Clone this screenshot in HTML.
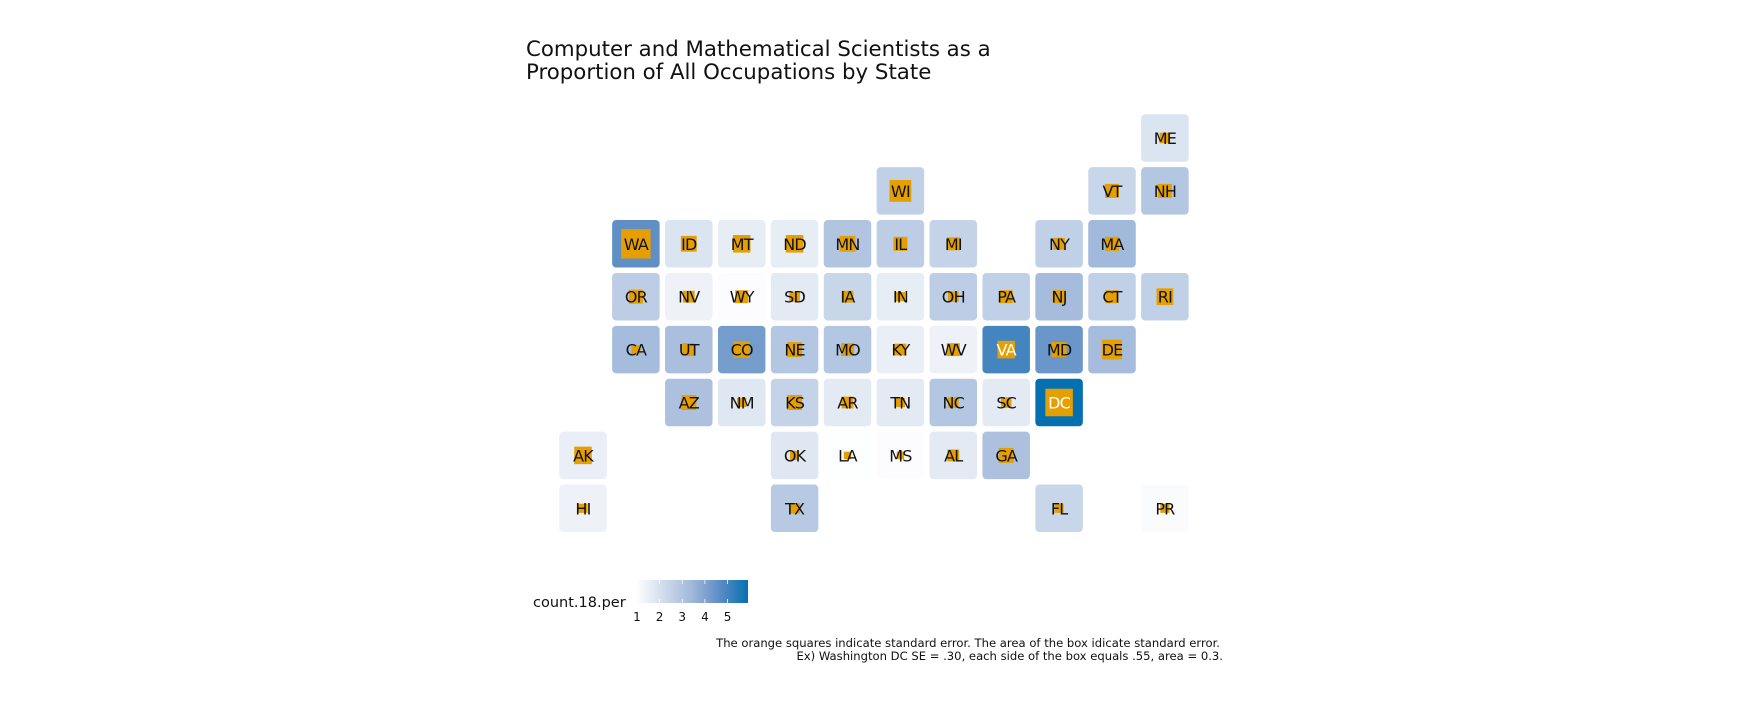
<!DOCTYPE html>
<html><head><meta charset="utf-8"><style>
html,body{margin:0;padding:0;background:#fff;}
svg{display:block;font-family:"DejaVu Sans","Liberation Sans",sans-serif;}
</style></head><body>
<svg id="chart" width="1745" height="702" viewBox="0 0 1745 702">
<defs>
<linearGradient id="cbar" x1="0" x2="1" y1="0" y2="0">
<stop offset="0" stop-color="#ffffff"/><stop offset="0.5" stop-color="#a0b8da"/><stop offset="0.75" stop-color="#5b8dc4"/><stop offset="1" stop-color="#0570b0"/>
</linearGradient>
</defs>
<text x="526" y="56" font-size="21.3" fill="#111">Computer and Mathematical Scientists as a</text>
<text x="526" y="79" font-size="21.3" fill="#111">Proportion of All Occupations by State</text>
<g id="tiles"></g>
<text x="533" y="607" font-size="14.5" fill="#111">count.18.per</text>
<rect x="636" y="580" width="112" height="23" fill="url(#cbar)"/>
<g id="legend-ticks"></g>
<text x="1220" y="647" font-size="11.6" text-anchor="end" fill="#111">The orange squares indicate standard error. The area of the box idicate standard error.</text>
<text x="1223" y="660" font-size="11.6" text-anchor="end" fill="#111">Ex) Washington DC SE = .30, each side of the box equals .55, area = 0.3.</text>
</svg>
<script>
const states = ["ME","WI","VT","NH","WA","ID","MT","ND","MN","IL","MI","NY","MA","OR","NV","WY","SD","IA","IN","OH","PA","NJ","CT","RI","CA","UT","CO","NE","MO","KY","WV","VA","MD","DE","AZ","NM","KS","AR","TN","NC","SC","DC","AK","OK","LA","MS","AL","GA","HI","TX","FL","PR"];
const cols = [11,6,10,11,1,2,3,4,5,6,7,9,10,1,2,3,4,5,6,7,8,9,10,11,1,2,3,4,5,6,7,8,9,10,2,3,4,5,6,7,8,9,0,4,5,6,7,8,0,4,9,11];
const rows = [0,1,1,1,2,2,2,2,2,2,2,2,2,3,3,3,3,3,3,3,3,3,3,3,4,4,4,4,4,4,4,4,4,4,5,5,5,5,5,5,5,5,6,6,6,6,6,6,7,7,7,7];
const values = [1.9,2.6,2.4,2.9,4.6,1.9,1.6,1.6,3.0,2.7,2.5,2.6,3.4,2.7,1.4,1.05,1.7,2.4,1.6,2.7,2.6,3.3,2.6,2.6,3.3,3.2,4.2,2.9,2.9,1.5,1.4,5.0,4.4,3.3,3.1,1.8,2.5,1.7,1.7,2.9,1.7,5.9,1.5,1.8,1.0,1.05,1.7,3.1,1.4,2.8,2.4,1.1];
const se = [.04,.17,.07,.07,.31,.09,.11,.11,.09,.07,.06,.05,.07,.07,.05,.06,.04,.05,.03,.04,.06,.06,.06,.10,.03,.06,.10,.08,.06,.05,.06,.11,.08,.14,.08,.03,.08,.05,.03,.04,.04,.27,.11,.03,.02,.02,.05,.08,.03,.04,.03,.03];
const legendTicks = [1,2,3,4,5];
const vmin = 0.96, vmax = 5.9;
const stops = [[0,[255,255,255]],[0.5,[160,184,218]],[0.75,[91,141,196]],[1,[5,112,176]]];
function color(v){
  let t=Math.max(0,Math.min(1,(v-vmin)/(vmax-vmin)));
  for(let i=1;i<stops.length;i++){ if(t<=stops[i][0]){const a=stops[i-1],b=stops[i];const f=(t-a[0])/(b[0]-a[0]);
    return 'rgb('+a[1].map((c,k)=>Math.round(c+(b[1][k]-c)*f)).join(',')+')';}}
  return 'rgb(5,112,176)';
}
const unit = 52.9;
const xs = c => 583 + unit*c;
const ys = r => 138 + unit*r;
const lx = v => 636 + (v-vmin)/(vmax-vmin)*112;
const NS='http://www.w3.org/2000/svg';
const g=document.getElementById('tiles');
states.forEach((s,i)=>{
  const cx=xs(cols[i]), cy=ys(rows[i]), w=47.5;
  const grp=document.createElementNS(NS,'g');
  
  
  const r=document.createElementNS(NS,'rect');
  r.setAttribute('x',cx-w/2);r.setAttribute('y',cy-w/2);r.setAttribute('width',w);r.setAttribute('height',w);
  r.setAttribute('rx',4);r.setAttribute('fill',color(values[i]));
  
  
  grp.appendChild(r);
  const side=Math.sqrt(se[i])*unit;
  const q=document.createElementNS(NS,'rect');
  q.setAttribute('x',cx-side/2);q.setAttribute('y',cy-side/2);q.setAttribute('width',side);q.setAttribute('height',side);
  q.setAttribute('fill','#e69f00');
  
  
  grp.appendChild(q);
  const t=document.createElementNS(NS,'text');
  t.setAttribute('x',cx);t.setAttribute('y',cy+6);t.setAttribute('text-anchor','middle');
  t.setAttribute('font-size','16');t.setAttribute('letter-spacing','-0.8');t.setAttribute('fill',values[i]>4.8?'#fff':'#111');
  t.textContent=s;
  
  
  grp.appendChild(t);
  g.appendChild(grp);
});
const lt=document.getElementById('legend-ticks');
legendTicks.forEach(v=>{
  const x=lx(v);
  const ln=document.createElementNS(NS,'line');
  ln.setAttribute('x1',x);ln.setAttribute('x2',x);ln.setAttribute('y1',580);ln.setAttribute('y2',584);
  ln.setAttribute('stroke','#fff');ln.setAttribute('stroke-width','0.8');
  
  
  lt.appendChild(ln);
  const ln2=ln.cloneNode();ln2.setAttribute('y1',599);ln2.setAttribute('y2',603);
  
  
  lt.appendChild(ln2);
  const t=document.createElementNS(NS,'text');
  t.setAttribute('x',x);t.setAttribute('y',621);t.setAttribute('text-anchor','middle');
  t.setAttribute('font-size','12');t.setAttribute('fill','#111');t.textContent=v;
  
  
  lt.appendChild(t);
});
</script>
</body></html>
